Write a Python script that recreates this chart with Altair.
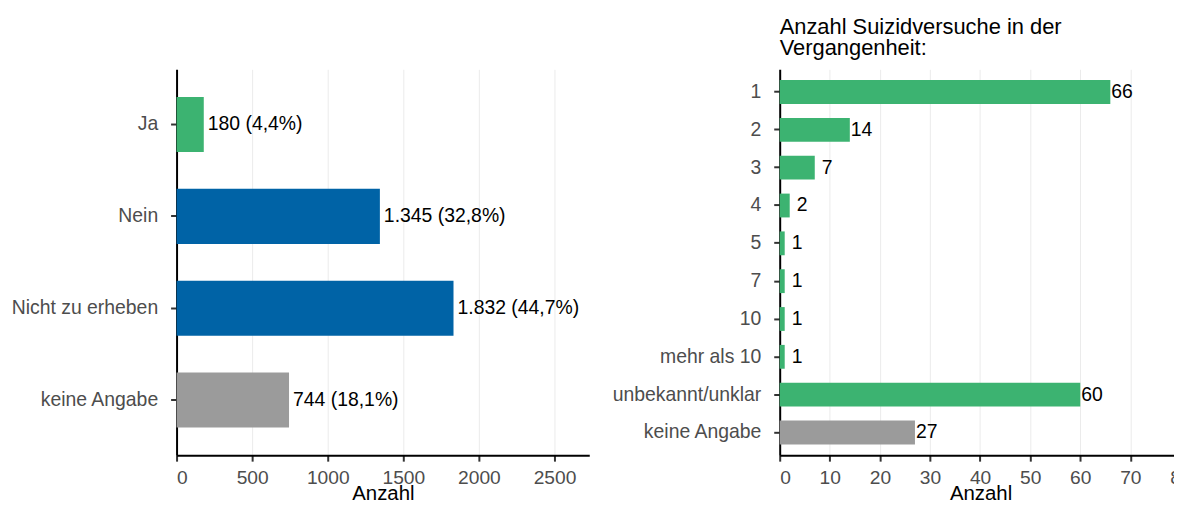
import altair as alt
import pandas as pd

# ---- data ----
left_categories = ["Ja", "Nein", "Nicht zu erheben", "keine Angabe"]
left_counts = [180, 1345, 1832, 744]
left_labels = ["180 (4,4%)", "1.345 (32,8%)", "1.832 (44,7%)", "744 (18,1%)"]
left_groups = ["ja", "nein", "nein", "fehlend"]

right_categories = ["1", "2", "3", "4", "5", "7", "10", "mehr als 10",
                    "unbekannt/unklar", "keine Angabe"]
right_counts = [66, 14, 7, 2, 1, 1, 1, 1, 60, 27]
right_labels = ["66", "14", "7", "2", "1", "1", "1", "1", "60", "27"]
right_groups = ["ja", "ja", "ja", "ja", "ja", "ja", "ja", "ja", "ja", "fehlend"]

right_title = ["Anzahl Suizidversuche in der", "Vergangenheit:"]
x_title = "Anzahl"
left_ticks = [0, 500, 1000, 1500, 2000, 2500]
right_ticks = [0, 10, 20, 30, 40, 50, 60, 70, 80]

group_domain = ["ja", "nein", "fehlend"]
group_colors = ["#3CB371", "#0063A6", "#9B9B9B"]

FONT = "Liberation Sans"

left_df = pd.DataFrame({"cat": left_categories, "n": left_counts,
                        "label": left_labels, "grp": left_groups})
right_df = pd.DataFrame({"cat": right_categories, "n": right_counts,
                         "label": right_labels, "grp": right_groups})

color_scale = alt.Scale(domain=group_domain, range=group_colors)


def x_axis(ticks):
    return alt.Axis(values=ticks, title=x_title, grid=True, format="d",
                    titleBaseline="alphabetic", titleY=44.5, titleFontSize=20.5,
                    titleColor="black", titleFontWeight="normal", titleFont=FONT,
                    labelPadding=7)


y_axis = alt.Axis(title=None, grid=False, labelPadding=13)

# left chart
left_base = alt.Chart(left_df).encode(
    y=alt.Y("cat:N", sort=left_categories, axis=y_axis,
            scale=alt.Scale(paddingInner=0.4, paddingOuter=0.3)),
)
left_bars = left_base.mark_bar().encode(
    x=alt.X("n:Q", axis=x_axis(left_ticks),
            scale=alt.Scale(domain=[0, 2730], nice=False, zero=True)),
    color=alt.Color("grp:N", scale=color_scale, legend=None),
)
left_text = left_base.mark_text(align="left", baseline="middle", dx=4,
                                fontSize=19.5, font=FONT, color="black").encode(
    x=alt.X("n:Q"), text="label:N")
left_chart = alt.layer(left_bars, left_text).properties(width=415, height=388)

# right chart
right_base = alt.Chart(right_df).encode(
    y=alt.Y("cat:N", sort=right_categories, axis=y_axis,
            scale=alt.Scale(paddingInner=0.37, paddingOuter=0.285)),
)
right_bars = right_base.mark_bar().encode(
    x=alt.X("n:Q", axis=x_axis(right_ticks),
            scale=alt.Scale(domain=[0, 80.2], nice=False, zero=True)),
    color=alt.Color("grp:N", scale=color_scale, legend=None),
)
right_text2 = right_base.transform_filter("datum.n >= 10").mark_text(
    align="left", baseline="middle", dx=1, fontSize=19.5, font=FONT,
    color="black").encode(x=alt.X("n:Q"), text="label:N")
right_text1 = right_base.transform_filter("datum.n < 10").mark_text(
    align="left", baseline="middle", dx=7, fontSize=19.5, font=FONT,
    color="black").encode(x=alt.X("n:Q"), text="label:N")
right_chart = alt.layer(right_bars, right_text2, right_text1).properties(
    width=404, height=388,
    title=alt.TitleParams(text=right_title, anchor="start", frame="group",
                          fontSize=22, font=FONT, fontWeight="normal",
                          color="black", lineHeight=21, baseline="alphabetic",
                          offset=-7.3),
)

chart = alt.hconcat(left_chart, right_chart, spacing=191.5, bounds="flush").properties(
    padding={"left": 2.5, "top": 5.3, "right": -18, "bottom": -5.5}
).configure_view(stroke="transparent").configure_axis(
    domainColor="black", domainWidth=2, tickColor="#333333", tickWidth=2,
    tickSize=6, labelFont=FONT, labelFontSize=19.3, labelColor="#4D4D4D",
    gridColor="#EBEBEB", gridWidth=1,
).configure_axisY(labelFontSize=19.5)

chart.save("out.html", embed_options={"renderer": "svg", "actions": False})
